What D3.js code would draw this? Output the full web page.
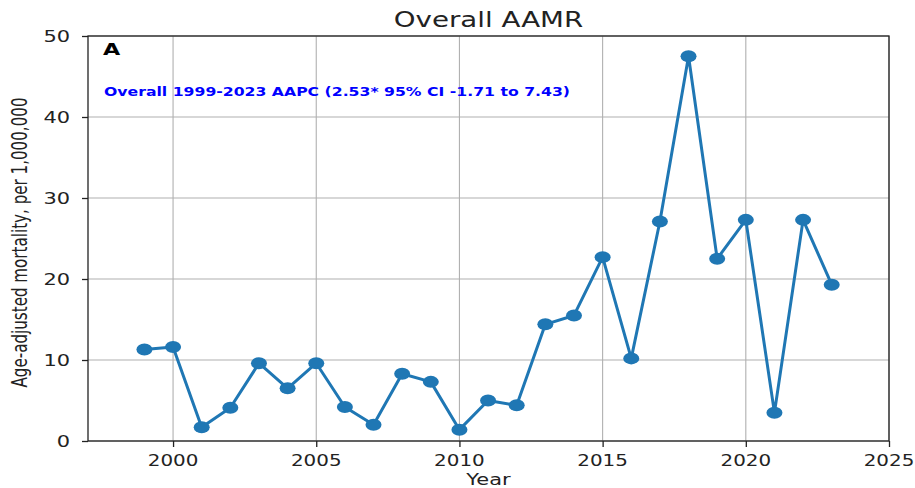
<!DOCTYPE html>
<html>
<head>
<meta charset="utf-8">
<script src="https://cdn.jsdelivr.net/npm/d3@7"></script>
<style>
html,body{margin:0;padding:0;background:#fff;}
svg{display:block;font-family:"DejaVu Sans",sans-serif;}
</style>
</head>
<body>
<div id="chart"></div>
<script>
const years = [1999,2000,2001,2002,2003,2004,2005,2006,2007,2008,2009,2010,2011,2012,2013,2014,2015,2016,2017,2018,2019,2020,2021,2022,2023];
const aamr = [11.3,11.6,1.7,4.1,9.6,6.5,9.6,4.2,2.0,8.3,7.3,1.4,5.0,4.4,14.4,15.5,22.7,10.2,27.1,47.5,22.5,27.3,3.5,27.3,19.3];
const xTicks = [2000,2005,2010,2015,2020,2025];
const yTicks = [0,10,20,30,40,50];
const titleText = "Overall AAMR";
const panelLabel = "A";
const annotation = "Overall 1999-2023 AAPC (2.53* 95% CI -1.71 to 7.43)";
const xLabel = "Year";
const yLabel = "Age-adjusted mortality, per 1,000,000";

const W = 915, H = 488;
const m = {left: 88, right: 26, top: 36, bottom: 47};
const SX = 1.35; // horizontal stretch of text in the reference

const svg = d3.select("#chart").append("svg").attr("width", W).attr("height", H);

const x = d3.scaleLinear().domain([1997.03, 2025]).range([m.left, W - m.right]);
const y = d3.scaleLinear().domain([0, 50]).range([H - m.bottom, m.top]);

// grid
svg.append("g").selectAll("line.vg").data(xTicks).join("line")
  .attr("x1", d => x(d)).attr("x2", d => x(d))
  .attr("y1", m.top).attr("y2", H - m.bottom)
  .attr("stroke", "#b0b0b0").attr("stroke-width", 1.1);
svg.append("g").selectAll("line.hg").data(yTicks).join("line")
  .attr("x1", m.left).attr("x2", W - m.right)
  .attr("y1", d => y(d)).attr("y2", d => y(d))
  .attr("stroke", "#b0b0b0").attr("stroke-width", 1.1);

// axes via d3 axis (ticks only, labels drawn stretched)
const xAxis = svg.append("g").attr("transform", `translate(0,${H - m.bottom})`)
  .call(d3.axisBottom(x).tickValues(xTicks).tickSize(6).tickFormat(""));
const yAxis = svg.append("g").attr("transform", `translate(${m.left},0)`)
  .call(d3.axisLeft(y).tickValues(yTicks).tickSize(6).tickFormat(""));
[xAxis, yAxis].forEach(g => {
  g.select(".domain").remove();
  g.selectAll(".tick line").attr("stroke", "#222").attr("stroke-width", 1.3);
});

function stretchedText(xx, yy, txt, opts) {
  const s = opts.sx || SX;
  const t = svg.append("text")
    .attr("transform", `translate(${xx},${yy}) scale(${s},1)`)
    .attr("text-anchor", opts.anchor || "middle")
    .attr("font-size", opts.size)
    .attr("fill", opts.fill || "#222")
    .attr("font-weight", opts.weight || "normal")
    .text(txt);
  if (opts.dy) t.attr("dy", opts.dy);
  return t;
}

xTicks.forEach(v => stretchedText(x(v), 466, d3.format("d")(v), {size: 15.2, sx: 1.31}));
yTicks.forEach(v => stretchedText(m.left - 18, y(v), String(v), {size: 15.5, anchor: "end", dy: "0.36em"}));

// frame
svg.append("rect").attr("x", m.left).attr("y", m.top)
  .attr("width", W - m.right - m.left).attr("height", H - m.bottom - m.top)
  .attr("fill", "none").attr("stroke", "#222").attr("stroke-width", 1.3);

// line
const line = d3.line().x((d, i) => x(years[i])).y(d => y(d));
svg.append("path").datum(aamr).attr("d", line)
  .attr("fill", "none").attr("stroke", "#1f77b4").attr("stroke-width", 3)
  .attr("stroke-linejoin", "round");
svg.append("g").selectAll("ellipse").data(aamr).join("ellipse")
  .attr("cx", (d, i) => x(years[i])).attr("cy", d => y(d))
  .attr("rx", 8).attr("ry", 6).attr("fill", "#1f77b4");

// texts
stretchedText((m.left + W - m.right) / 2, 26.5, titleText, {size: 20.5});
stretchedText(103, 55, panelLabel, {size: 16.5, anchor: "start", weight: "bold", fill: "#000"});
svg.append("text").attr("x", 104).attr("y", 96)
  .attr("font-size", 12.5).attr("font-weight", "bold").attr("fill", "#0000ff")
  .attr("textLength", 466).attr("lengthAdjust", "spacingAndGlyphs")
  .text(annotation);
stretchedText((m.left + W - m.right) / 2, 485, xLabel, {size: 15.5});
svg.append("text")
  .attr("transform", `translate(27,${(m.top + H - m.bottom) / 2 + 4}) rotate(-90) scale(1,${SX})`)
  .attr("text-anchor", "middle").attr("font-size", 15.5).attr("fill", "#222")
  .attr("textLength", 290).attr("lengthAdjust", "spacingAndGlyphs")
  .text(yLabel);
</script>
</body>
</html>
